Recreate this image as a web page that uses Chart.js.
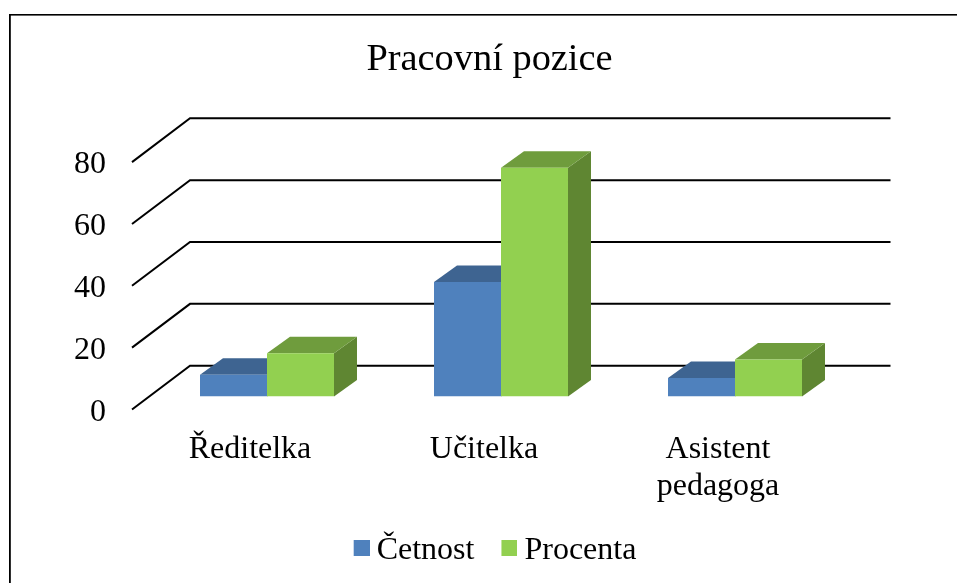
<!DOCTYPE html>
<html>
<head>
<meta charset="utf-8">
<style>html,body{margin:0;padding:0;background:#fff}canvas{display:block}</style>
<script src="https://cdn.jsdelivr.net/npm/chart.js@4"></script>
</head>
<body>
<canvas id="c" width="957" height="583"></canvas>
<script>
const titleText = 'Pracovní pozice';
const categories = ['Ředitelka', 'Učitelka', ['Asistent', 'pedagoga']];
const cetnost = [7, 37, 6];
const procenta = [14, 74, 12];
const seriesNames = ['Četnost', 'Procenta'];
const yTickStep = 20;
const yMax = 80;

const FONT = '"Liberation Serif", "Times New Roman", serif';
const faces = [
  {front: '#4F81BD', top: '#3E6491', side: '#3A5F8A'},
  {front: '#92D050', top: '#6F9C3D', side: '#5F8632'}
];
const DEPTH = {dx: 23, dy: -16.5};

function swatch(color) {
  const s = document.createElement('canvas');
  s.width = 18; s.height = 22;
  const g = s.getContext('2d');
  g.fillStyle = color;
  g.fillRect(2, 0, 16, 16);
  return s;
}

const scene3d = {
  id: 'scene3d',
  beforeDraw(chart) {
    const ctx = chart.ctx;
    ctx.save();
    ctx.fillStyle = '#000';
    ctx.fillRect(9, 14, chart.width - 9, 1.6);
    ctx.fillRect(9, 14, 1.8, chart.height - 14);
    ctx.restore();
  },
  beforeDatasetsDraw(chart) {
    const {ctx, chartArea: a, scales: {y}} = chart;
    ctx.save();
    ctx.strokeStyle = '#000';
    ctx.lineWidth = 2;
    ctx.lineJoin = 'miter';
    for (let v = 0; v <= yMax; v += yTickStep) {
      const p = y.getPixelForValue(v);
      ctx.beginPath();
      ctx.moveTo(a.left - 18, p + 13);
      ctx.lineTo(a.left + 40, p - 30.8);
      ctx.lineTo(a.right + 38.5, p - 30.8);
      ctx.stroke();
    }
    chart.data.datasets.forEach((ds, i) => {
      chart.getDatasetMeta(i).data.forEach(bar => {
        const l = bar.x - bar.width / 2, r = bar.x + bar.width / 2;
        const t = bar.y, b = bar.base;
        ctx.fillStyle = faces[i].side;
        ctx.beginPath();
        ctx.moveTo(r, t); ctx.lineTo(r + DEPTH.dx, t + DEPTH.dy);
        ctx.lineTo(r + DEPTH.dx, b + DEPTH.dy); ctx.lineTo(r, b);
        ctx.closePath(); ctx.fill();
        ctx.fillStyle = faces[i].top;
        ctx.beginPath();
        ctx.moveTo(l, t); ctx.lineTo(l + DEPTH.dx, t + DEPTH.dy);
        ctx.lineTo(r + DEPTH.dx, t + DEPTH.dy); ctx.lineTo(r, t);
        ctx.closePath(); ctx.fill();
      });
    });
    ctx.restore();
  },
  afterLayout(chart) {
    chart.titleBlock.left -= 9;
    chart.titleBlock.right -= 9;
    chart.scales.y.left = 0;
    chart.scales.x.bottom = chart.height;
  }
};

new Chart(document.getElementById('c'), {
  type: 'bar',
  plugins: [scene3d],
  data: {
    labels: categories,
    datasets: [
      {label: seriesNames[0], data: cetnost, backgroundColor: faces[0].front},
      {label: seriesNames[1], data: procenta, backgroundColor: faces[1].front}
    ]
  },
  options: {
    responsive: false,
    animation: false,
    devicePixelRatio: 1,
    categoryPercentage: 0.5726,
    barPercentage: 1,
    layout: {autoPadding: false, padding: {left: 145, right: 105, top: 0, bottom: 6}},
    plugins: {
      tooltip: {enabled: false},
      title: {
        display: true,
        text: titleText,
        color: '#000',
        font: {family: FONT, size: 38.4, weight: 'normal', lineHeight: 1.2},
        padding: {top: 37, bottom: 66}
      },
      legend: {
        position: 'bottom',
        labels: {
          color: '#000',
          font: {family: FONT, size: 32},
          usePointStyle: true,
          pointStyleWidth: 0.01,
          boxHeight: 16,
          padding: 34,
          generateLabels(chart) {
            return Chart.defaults.plugins.legend.labels.generateLabels(chart).map((it, i) => {
              it.pointStyle = swatch(faces[i].front);
              return it;
            });
          }
        }
      }
    },
    scales: {
      x: {
        grid: {display: false},
        border: {display: false},
        afterFit(s) { s.height = 104.5; },
        ticks: {
          color: '#000',
          font: {family: FONT, size: 32, lineHeight: 1.15},
          padding: 26.5,
          labelOffset: -17,
          maxRotation: 0,
          autoSkip: false
        }
      },
      y: {
        min: 0,
        max: yMax,
        grid: {display: false},
        border: {display: false},
        afterFit(s) { s.width = 5; },
        ticks: {
          stepSize: yTickStep,
          color: '#000',
          font: {family: FONT, size: 32},
          padding: 36,
          labelOffset: 16
        }
      }
    }
  }
});
</script>
</body>
</html>
